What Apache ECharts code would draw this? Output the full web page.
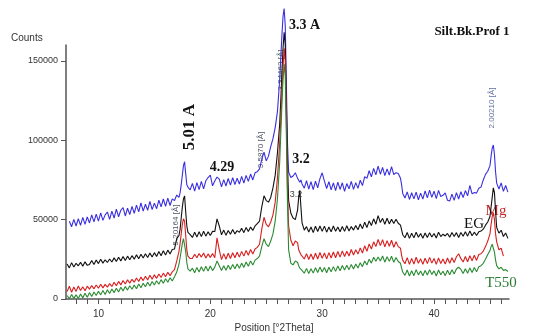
<!DOCTYPE html>
<html>
<head>
<meta charset="utf-8">
<script src="https://cdn.jsdelivr.net/npm/echarts@6/dist/echarts.min.js"></script>
<style>html,body{margin:0;padding:0;background:#fff}#c{width:540px;height:334px}</style>
</head>
<body>
<div id="c"></div>
<script>
// 2Theta positions (degrees)
const theta = [
  7.2,7.4,7.6,7.8,8.0,8.2,8.4,8.6,8.8,9.0,
  9.2,9.4,9.6,9.8,10.0,10.2,10.4,10.6,10.8,11.0,
  11.2,11.4,11.6,11.8,12.0,12.2,12.4,12.6,12.8,13.0,
  13.2,13.4,13.6,13.8,14.0,14.2,14.4,14.6,14.8,15.0,
  15.2,15.4,15.6,15.8,16.0,16.2,16.4,16.6,16.8,17.0,
  17.2,17.3,17.4,17.5,17.6,17.7,17.8,17.9,18.0,18.2,
  18.4,18.6,18.8,19.0,19.2,19.4,19.6,19.8,20.0,20.2,
  20.4,20.6,20.8,21.0,21.2,21.4,21.6,21.8,22.0,22.2,
  22.4,22.6,22.8,23.0,23.2,23.4,23.6,23.8,24.0,24.2,
  24.4,24.6,24.8,25.0,25.2,25.4,25.6,25.8,26.0,26.2,
  26.3,26.4,26.5,26.6,26.7,26.8,26.9,27.0,27.2,27.4,
  27.6,27.8,27.9,28.0,28.1,28.2,28.4,28.6,28.8,29.0,
  29.2,29.4,29.6,29.8,30.0,30.2,30.4,30.6,30.8,31.0,
  31.2,31.4,31.6,31.8,32.0,32.2,32.4,32.6,32.8,33.0,
  33.2,33.4,33.6,33.8,34.0,34.2,34.4,34.6,34.8,35.0,
  35.2,35.4,35.6,35.8,36.0,36.2,36.4,36.6,36.8,37.0,
  37.1,37.2,37.4,37.6,37.8,38.0,38.2,38.4,38.6,38.8,
  39.0,39.2,39.4,39.6,39.8,40.0,40.2,40.4,40.6,40.8,
  41.0,41.2,41.4,41.6,41.8,42.0,42.2,42.4,42.6,42.8,
  43.0,43.2,43.4,43.6,43.8,44.0,44.2,44.4,44.6,44.8,
  45.0,45.1,45.2,45.3,45.4,45.5,45.6,45.8,46.0,46.2,
  46.4,46.6
];

// Blue trace (counts)
const blueCounts = [
  null,49000,45500,50200,46000,50600,46400,51400,47000,51700,
  47900,53000,48600,53500,49100,54200,49500,53000,54800,50100,
  55400,51000,56600,51800,55900,57500,52300,57200,53200,58300,
  54000,59100,54900,60600,55400,59700,55900,61500,56300,60400,
  56900,62200,58000,63000,58400,63600,58900,63100,62000,65500,
  64000,67000,72000,78000,84000,86500,79000,72000,70500,68800,
  72800,68000,73300,68900,74100,69400,74500,76500,78000,71300,
  74300,76800,75500,70600,75200,71200,75900,71700,76400,72100,
  76100,72400,77200,73000,77900,74100,78700,75000,79500,80200,
  82000,88000,92500,87000,90000,96000,101000,108000,118000,138000,
  152000,166000,178000,183000,172000,135000,98000,80000,76500,77500,
  79500,76000,76500,73500,75000,72500,69800,74500,69200,73900,
  68900,74200,70000,75800,79500,74200,69600,73900,68700,73100,
  68300,73600,69000,73200,67800,72700,69400,74100,69100,73300,
  69700,74800,71400,77100,76000,80800,76900,82300,78200,83700,
  78600,82900,77700,82000,78000,83400,78400,79600,79000,76000,
  72000,66500,63600,67500,62700,66900,63100,67300,62500,66700,
  62900,68100,63700,68600,64000,67900,63200,68400,64600,65300,
  66900,62200,61700,66100,62100,67000,63000,67600,63900,68300,
  65000,71500,66200,67100,66700,69800,70500,75000,78500,80500,
  84000,90000,95000,97000,91000,80000,73000,69300,73100,67800,
  71500,67300
];

// EG trace, black (counts)
const egCounts = [
  22000,19600,22900,20100,22500,20900,23100,20700,23400,21200,
  21800,24200,21700,24600,22300,25000,22600,24700,23000,25200,
  23300,25900,23600,26300,24000,26700,24300,27000,24700,27300,
  25100,27800,25300,28200,25800,28500,26100,28900,26500,29200,
  26800,29900,27300,30400,27700,30800,28300,31200,31500,38000,
  40000,44000,51000,58000,63000,65000,55000,46000,42000,40500,
  38800,42000,39000,42400,39300,42700,39600,42300,40000,42600,
  42500,50500,46000,40400,43400,40100,43100,40800,43800,41000,
  43100,42000,44500,41800,45000,42500,45300,43200,46000,47500,
  49000,58000,65000,62000,61000,64000,70000,78000,92000,110000,
  125000,142000,158000,168000,160000,122000,86000,62000,54000,51000,
  50000,56000,64000,68500,58000,48000,43400,45600,42200,45400,
  41800,45800,42500,46000,42600,45900,42100,45300,42300,46000,
  42700,45400,42400,45700,42600,46100,42800,45600,43400,46300,
  43600,47200,44300,48400,45000,49200,46300,50500,47100,52500,
  48200,50800,47100,50900,47300,50300,47600,50200,47700,46500,
  43500,40500,38600,41900,38200,41400,38500,42000,38900,41200,
  38300,41600,38700,41800,39000,41300,38400,42100,39300,40800,
  39700,41300,38900,41900,39400,41800,38800,41900,39500,42400,
  39600,42800,39800,42100,40000,42300,42800,44000,46500,48500,
  52000,58000,64000,70000,67000,55000,45000,41500,43300,39400,
  41600,38200
];

// Mg trace, red (counts)
const mgCounts = [
  4700,8000,4200,7600,4800,8200,5300,7700,5200,8100,
  6200,8500,6400,8800,6800,9300,7000,9200,7500,9700,
  7900,10600,8300,11100,8900,11600,9400,12100,10000,12400,
  10600,13200,11000,13800,11600,14300,12000,14900,12500,15200,
  13000,15800,13500,16300,14000,16800,14700,17100,18500,24000,
  30000,35000,41000,47000,50500,49000,40000,31000,27000,25500,
  25600,28200,26000,28600,26400,29000,25800,28400,26200,28700,
  26000,38500,31000,24800,28600,25000,28800,25500,29100,26000,
  29400,26400,30000,27000,30600,27600,31200,28300,31500,32500,
  34500,44000,51500,47000,45500,48500,53000,61000,76000,98000,
  114000,130000,146000,158000,150000,112000,70000,46000,37000,33500,
  36500,35500,31000,29500,28000,27000,25200,28600,24900,28300,
  24900,28800,25200,29300,25600,29000,25300,29200,25800,29600,
  26000,29900,26400,30300,26800,30100,27100,31200,27700,31000,
  28300,32200,29000,33500,30000,34700,31500,36000,33000,37500,
  33600,37400,32800,36800,33200,37000,32600,36100,33000,32000,
  27500,24500,22200,26100,21800,25600,22000,26300,22500,25300,
  21900,25700,22300,26200,22600,25500,21800,25900,22400,25200,
  22000,25800,22500,26000,23000,26600,28500,25400,23300,26800,
  23500,27200,24000,27600,24300,28000,28500,30200,33000,36500,
  41000,47000,52000,54500,50000,41000,36000,31000,32000,27000,
  null,null
];

// T550 trace, green (counts)
const t550Counts = [
  2200,200,2900,400,2600,300,3200,700,3600,1100,
  4000,1600,4400,2200,4900,2600,5400,2900,5800,3500,
  6300,4000,6800,4400,7400,5100,7900,5600,8300,6100,
  8800,6500,9400,7100,9900,7700,10500,8200,11000,8800,
  11500,9300,12200,9900,12800,10500,13400,11400,14000,17000,
  22000,26000,30500,35000,38000,37000,30000,23000,19000,17500,
  19400,16500,19900,17000,20300,17400,20600,17700,20800,17900,
  20100,24000,21000,17900,21000,18100,21300,18600,21800,19000,
  22100,19400,22600,19900,23300,20600,24000,21400,24500,25500,
  27000,33000,38000,34500,33000,36500,41000,49000,63000,86000,
  104000,122000,138000,148000,140000,102000,60000,31000,22500,21500,
  24000,23000,21000,19500,18500,18000,16200,19300,16000,19100,
  16300,19700,16700,20100,17000,19800,16500,20000,17100,20400,
  17400,20800,17800,21100,18200,21300,18500,21800,18900,22100,
  19500,22800,20400,23900,21400,25100,22600,26300,23800,26500,
  24000,27100,23200,26600,23700,26900,23100,26100,23600,22500,
  19500,17000,14900,18300,14500,17800,14700,18500,15200,17600,
  14600,18000,15100,18500,15500,17700,14500,18300,15300,17500,
  14700,18100,15300,18400,15700,18900,20000,18600,16000,19100,
  16200,19600,16700,19900,17100,20300,21000,22500,25000,28000,
  30500,33000,34500,33500,29500,24500,21000,19000,20000,18000,
  18500,17300
];

const xLabelValues = [10, 20, 30, 40];
const xTickValues = [8,9,10,11,12,13,14,15,16,17,18,19,20,21,22,23,24,25,26,27,28,29,30,31,32,33,34,35,36,37,38,39,40,41,42,43,44,45,46];
const yLabelValues = [0, 50000, 100000, 150000];

const pairs = arr => theta.map((t, i) => [t, arr[i]]);

const chart = echarts.init(document.getElementById('c'), null, {renderer: 'canvas'});
const narrow = '"Liberation Sans Narrow","Arial Narrow","Liberation Sans",Arial,sans-serif';
const serif = '"Liberation Serif","Times New Roman",serif';

function lineSeries(name, arr, color) {
  return {
    name, type: 'line', data: pairs(arr), showSymbol: false, symbol: 'none',
    clip: false, connectNulls: false,
    lineStyle: {color, width: 1.1}, silent: true
  };
}

chart.setOption({
  animation: false,
  backgroundColor: '#ffffff',
  grid: {left: 66, right: 31, top: 45, bottom: 35},
  xAxis: {
    type: 'value', min: 7.1, max: 46.7,
    axisLine: {show: true, lineStyle: {color: '#555', width: 1.5}},
    axisTick: {show: true, length: 5, inside: false, customValues: xTickValues, lineStyle: {color: '#555', width: 1}},
    axisLabel: {customValues: xLabelValues, margin: 10, fontSize: 10, color: '#333', fontFamily: narrow},
    splitLine: {show: false}
  },
  yAxis: {
    type: 'value', min: 0, max: 160000,
    axisLine: {show: true, lineStyle: {color: '#555', width: 1.5}},
    axisTick: {show: true, length: 5, inside: false, customValues: yLabelValues, lineStyle: {color: '#555', width: 1}},
    axisLabel: {customValues: yLabelValues, margin: 8, fontSize: 9, color: '#333', fontFamily: narrow,
      formatter: v => String(v)},
    splitLine: {show: false}
  },
  series: [
    lineSeries('Blue', blueCounts, '#3a2fe0'),
    lineSeries('EG', egCounts, '#111111'),
    lineSeries('Mg', mgCounts, '#d81e1e'),
    lineSeries('T550', t550Counts, '#2a8a32')
  ],
  graphic: [
    {type: 'text', x: 11, y: 38, style: {text: 'Counts', font: '10px ' + narrow, fill: '#333', textAlign: 'left', textVerticalAlign: 'middle'}},
    {type: 'text', x: 274, y: 328, style: {text: 'Position [°2Theta]', font: '10px ' + narrow, fill: '#333', textAlign: 'center', textVerticalAlign: 'middle'}},
    {type: 'text', x: 472, y: 32, style: {text: 'Silt.Bk.Prof 1', font: 'bold 13px ' + serif, fill: '#111', textAlign: 'center', textVerticalAlign: 'middle'}},
    {type: 'text', x: 289, y: 25, style: {text: '3.3 A', font: 'bold 14px ' + serif, fill: '#111', textAlign: 'left', textVerticalAlign: 'middle'}},
    {type: 'text', x: 190, y: 127, rotation: Math.PI / 2, style: {text: '5.01 A', font: 'bold 17px ' + serif, fill: '#111', textAlign: 'center', textVerticalAlign: 'middle'}},
    {type: 'text', x: 222, y: 167, style: {text: '4.29', font: 'bold 14px ' + serif, fill: '#111', textAlign: 'center', textVerticalAlign: 'middle'}},
    {type: 'text', x: 301, y: 159, style: {text: '3.2', font: 'bold 14px ' + serif, fill: '#111', textAlign: 'center', textVerticalAlign: 'middle'}},
    {type: 'text', x: 296, y: 195, style: {text: '3.2', font: '9px ' + narrow, fill: '#444', textAlign: 'center', textVerticalAlign: 'middle'}},
    {type: 'text', x: 474, y: 224, style: {text: 'EG', font: '15px ' + serif, fill: '#111', textAlign: 'center', textVerticalAlign: 'middle'}},
    {type: 'text', x: 496, y: 211, style: {text: 'Mg', font: '15px ' + serif, fill: '#c0282a', textAlign: 'center', textVerticalAlign: 'middle'}},
    {type: 'text', x: 501, y: 283, style: {text: 'T550', font: '15px ' + serif, fill: '#2a7a30', textAlign: 'center', textVerticalAlign: 'middle'}},
    {type: 'text', x: 176, y: 225, rotation: Math.PI / 2, style: {text: '5.20164 [Å]', font: '8px ' + narrow, fill: '#505868', textAlign: 'center', textVerticalAlign: 'middle'}},
    {type: 'text', x: 281, y: 70, rotation: Math.PI / 2, style: {text: '3.34463 [Å]', font: '8px ' + narrow, fill: '#4d6a52', textAlign: 'center', textVerticalAlign: 'middle'}},
    {type: 'text', x: 261, y: 150, rotation: Math.PI / 2, style: {text: '3.5870 [Å]', font: '8px ' + narrow, fill: '#505868', textAlign: 'center', textVerticalAlign: 'middle'}},
    {type: 'text', x: 492, y: 108, rotation: Math.PI / 2, style: {text: '2.00210 [Å]', font: '8px ' + narrow, fill: '#6070a0', textAlign: 'center', textVerticalAlign: 'middle'}}
  ]
});
</script>
</body>
</html>
